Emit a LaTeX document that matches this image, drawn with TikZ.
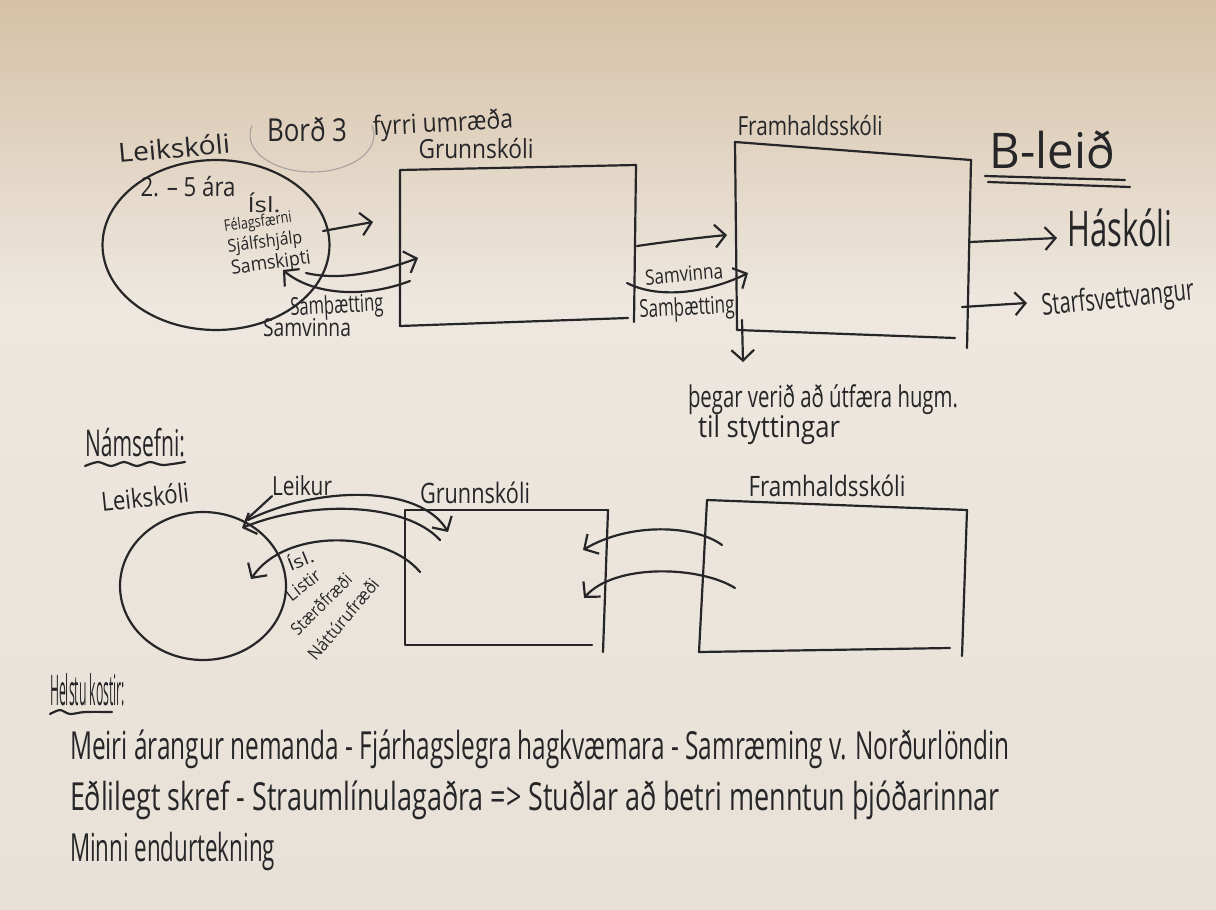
\documentclass[tikz,border=0pt]{standalone}
\usepackage{fontspec}
\setmainfont{Open Sans}
\usetikzlibrary{arrows.meta,shapes.geometric}
\definecolor{ink}{RGB}{38,38,40}
\definecolor{paperT}{RGB}{214,193,166}
\definecolor{paperM}{RGB}{237,231,223}
\definecolor{paperB}{RGB}{232,225,216}
\definecolor{pale}{RGB}{165,160,158}
\newcommand\fw[3]{\resizebox{#1}{\height}{\fontsize{#2}{#2}\selectfont #3}}
\tikzset{
  ink/.style={draw=ink, line width=1.25pt, line cap=round, line join=round},
  arr/.style={ink, -{Straight Barb[length=6pt,width=13pt]}},
  txt/.style={text=ink, inner sep=0pt, outer sep=0pt},
  blob/.style={ellipse, ink, inner sep=0pt, outer sep=0pt},
}
\begin{document}
\begin{tikzpicture}[x=0.02cm,y=-0.02cm]
\shade[top color=paperT, bottom color=paperM] (0,0) rectangle (1216,300);
\shade[top color=paperM, bottom color=paperB] (0,300) rectangle (1216,909);
\useasboundingbox (0,0) rectangle (1216,909);

% ---------- top row ----------
\node[txt, rotate=5] (leik1) at (174,148) {\fw{2.24cm}{15}{Leikskóli}};
\node[txt] (bord) at (307,130) {\fw{1.6cm}{18}{Borð 3}};
\draw[pale, line width=0.6pt] (312,135) ++(195:62 and 37) arc[start angle=195, end angle=-15, x radius=62, y radius=37];
\node[txt, rotate=3] (fyrri) at (443,125) {\fw{2.8cm}{15}{fyrri umræða}};
\node[txt] (grunn1) at (476,149) {\fw{2.3cm}{15}{Grunnskóli}};

\node[blob, draw, minimum width=4.54cm, minimum height=3.4cm] (lk1) at (216,245) {};
\node[txt] (aldur) at (188,187) {\fw{1.9cm}{15}{2. – 5 ára}};
\node[txt] (isl1) at (264,203) {\fw{0.66cm}{12}{Ísl.}};
\node[txt, rotate=8] (fel) at (258,223) {\fw{1.36cm}{9}{Félagsfærni}};
\node[txt, rotate=7] (sja) at (265,243) {\fw{1.5cm}{10}{Sjálfshjálp}};
\node[txt, rotate=8] (sams) at (271,264) {\fw{1.6cm}{11}{Samskipti}};
\node[txt, rotate=3] (samth1) at (337,307) {\fw{1.86cm}{14}{Samþætting}};
\node[txt] (samv1) at (307,328) {\fw{1.76cm}{14}{Samvinna}};

\coordinate (a1s) at (323,231); \coordinate (a1e) at (373,222);
\draw[arr] (a1s) -- (a1e);
\coordinate (a2s) at (306,273); \coordinate (a2e) at (418,258);
\draw[arr] (a2s) .. controls (340,281) and (380,272) .. (a2e);
\coordinate (a3s) at (410,281); \coordinate (a3e) at (283,270);
\draw[arr] (a3s) .. controls (360,300) and (310,293) .. (a3e);

% Grunnskoli box (top)
\coordinate (g1a) at (400,170); \coordinate (g1b) at (636,165);
\coordinate (g1c) at (634,322); \coordinate (g1d) at (400,326); \coordinate (g1e) at (628,318);
\draw[ink] (g1b) -- (g1a) -- (g1d) -- (g1e);
\draw[ink] (g1b) -- (g1c);

\coordinate (b1s) at (637,246); \coordinate (b1e) at (727,235);
\draw[arr] (b1s) .. controls (665,242) and (695,238) .. (b1e);
\coordinate (b2s) at (627,283); \coordinate (b2e) at (748,273);
\draw[arr] (b2s) .. controls (660,300) and (710,292) .. (b2e);
\node[txt, rotate=5] (samv2) at (684,274) {\fw{1.56cm}{12}{Samvinna}};
\node[txt, rotate=3] (samth2) at (687,309) {\fw{1.9cm}{14}{Samþætting}};

% Framhaldsskoli box (top)
\node[txt] (fram1) at (810,126) {\fw{2.9cm}{15}{Framhaldsskóli}};
\coordinate (f1a) at (735,142); \coordinate (f1b) at (971,160);
\coordinate (f1c) at (967,348); \coordinate (f1d) at (737,330); \coordinate (f1e) at (955,338);
\draw[ink] (f1b) -- (f1a) -- (f1d) -- (f1e);
\draw[ink] (f1b) -- (f1c);
\coordinate (dn1) at (742,320); \coordinate (dn2) at (743,362);
\draw[arr] (dn1) -- (dn2);

\node[txt] (bleid) at (1052,150) {\fw{2.5cm}{28}{B-leið}};
\draw[ink] (985,176) -- (1125,180);
\draw[ink] (988,182) -- (1130,187);

\node[txt] (hask) at (1120,228) {\fw{2.1cm}{28}{Háskóli}};
\coordinate (h1) at (970,242); \coordinate (h2) at (1057,238);
\draw[arr] (h1) -- (h2);
\node[txt, rotate=6] (starf) at (1118,300) {\fw{3.06cm}{17}{Starfsvettvangur}};
\coordinate (s1) at (962,307); \coordinate (s2) at (1027,303);
\draw[arr] (s1) -- (s2);

\node[txt, anchor=west] (thegar) at (688,400) {\fw{5.4cm}{17}{þegar verið að útfæra hugm.}};
\node[txt, anchor=west] (til) at (698,430) {\fw{2.84cm}{17}{til styttingar}};

% ---------- middle row ----------
\node[txt, anchor=west] (nams) at (85,443) {\fw{2.0cm}{21}{Námsefni:}};
\draw[ink] plot[smooth] coordinates {(85,466) (98,462) (111,466) (124,462) (137,466) (150,462) (163,465) (185,462)};

\node[txt, rotate=6] (leik2) at (145,497) {\fw{1.76cm}{15}{Leikskóli}};
\node[txt] (leikur) at (302,486) {\fw{1.2cm}{15}{Leikur}};
\node[blob, draw, minimum width=3.32cm, minimum height=2.96cm] (lk2) at (203,586) {};
\node[txt] (grunn2) at (475,493) {\fw{2.2cm}{16}{Grunnskóli}};
\node[txt] (fram2) at (827,486) {\fw{3.14cm}{16}{Framhaldsskóli}};

\coordinate (g2a) at (405,510); \coordinate (g2b) at (608,510);
\coordinate (g2c) at (603,652); \coordinate (g2d) at (405,645); \coordinate (g2e) at (592,645);
\draw[ink] (g2b) -- (g2a) -- (g2d) -- (g2e);
\draw[ink] (g2b) -- (g2c);

\coordinate (f2a) at (707,500); \coordinate (f2b) at (967,510);
\coordinate (f2c) at (962,656); \coordinate (f2d) at (699,652); \coordinate (f2e) at (950,648);
\draw[ink] (f2b) -- (f2a) -- (f2d) -- (f2e);
\draw[ink] (f2b) -- (f2c);

\coordinate (c1s) at (722,545); \coordinate (c1e) at (583,550);
\draw[arr] (c1s) .. controls (695,525) and (630,522) .. (c1e);
\coordinate (c2s) at (735,588); \coordinate (c2e) at (584,598);
\draw[arr] (c2s) .. controls (700,566) and (615,563) .. (c2e);

\coordinate (d1s) at (248,520); \coordinate (d1e) at (448,532);
\draw[arr] (d1s) .. controls (320,485) and (420,485) .. (d1e);
\coordinate (d2s) at (440,540); \coordinate (d2e) at (242,528);
\draw[arr] (d2s) .. controls (405,502) and (310,500) .. (d2e);
\coordinate (d3s) at (420,572); \coordinate (d3e) at (251,579);
\draw[arr] (d3s) .. controls (385,530) and (285,528) .. (d3e);
\coordinate (lp) at (246,520);
\draw[ink] (leikur.south west) -- (lp);

\node[txt, rotate=22] (isl2) at (300,559) {\fw{0.54cm}{10}{Ísl.}};
\node[txt, rotate=38] (list) at (303,585) {\fw{0.78cm}{10}{Listir}};
\node[txt, rotate=45] (stae) at (321,604) {\fw{1.56cm}{10}{Stærðfræði}};
\node[txt, rotate=50] (natt) at (343,619) {\fw{2.0cm}{10}{Náttúrufræði}};

% ---------- bottom ----------
\node[txt, anchor=west] (helstu) at (50,690) {\fw{1.5cm}{24}{Helstu kostir:}};
\draw[ink] plot[smooth] coordinates {(50,714) (60,710) (70,714) (85,712) (112,712)};
\node[txt, anchor=west] (k1) at (70,749) {\fw{18.8cm}{22}{Meiri árangur nemanda - Fjárhagslegra hagkvæmara - Samræming v. Norðurlöndin}};
\node[txt, anchor=west] (k2) at (70,800) {\fw{18.6cm}{22}{Eðlilegt skref - Straumlínulagaðra => Stuðlar að betri menntun þjóðarinnar}};
\node[txt, anchor=west] (k3) at (70,851) {\fw{4.1cm}{22}{Minni endurtekning}};
\end{tikzpicture}
\end{document}
